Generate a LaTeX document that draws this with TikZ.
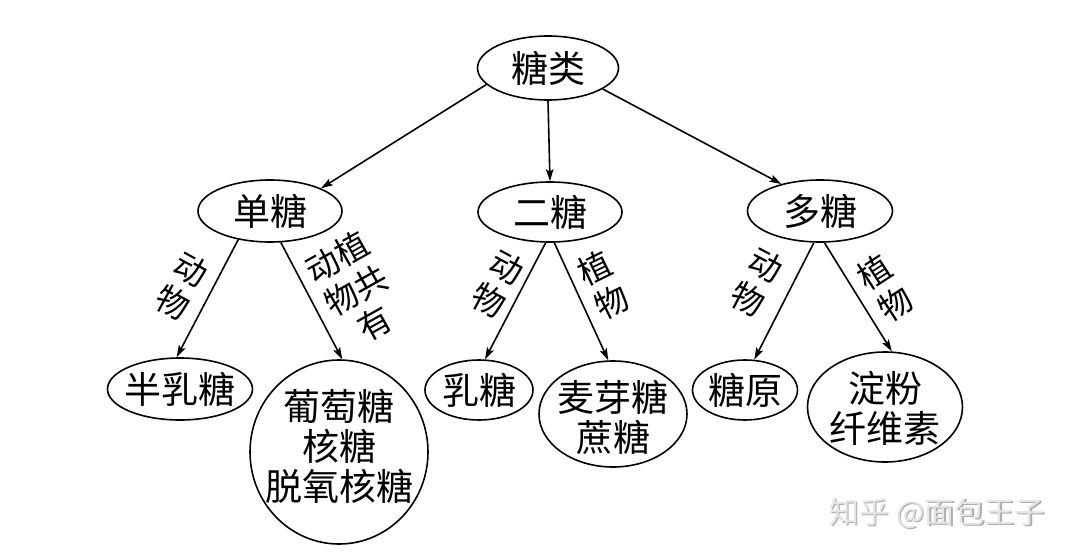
\documentclass[tikz,border=0pt]{standalone}
\usepackage{fontspec}
\setmainfont{Noto Sans CJK SC}
\usetikzlibrary{shapes.geometric,arrows.meta}
\tikzset{
  ell/.style={draw, ellipse, line width=1.6pt, inner sep=0pt},
  txt/.style={align=center, font=\fontsize{37}{40}\selectfont},
  lbl/.style={align=center, font=\fontsize{33}{38}\selectfont, inner sep=0pt},
  arr/.style={-{Stealth[length=12pt,width=7.5pt,inset=2.5pt]}, line width=1.6pt},
  wm/.style={font=\fontsize{30}{32}\selectfont}
}
\begin{document}
\begin{tikzpicture}[x=1pt,y=-1pt]
\useasboundingbox (0,0) rectangle (1080,557);
% ellipses
\node[ell, minimum width=141, minimum height=64] (lei) at (548,68) {};
\node[ell, minimum width=144, minimum height=62] (dan) at (270,211) {};
\node[ell, minimum width=144, minimum height=60] (er) at (550,212) {};
\node[ell, minimum width=145, minimum height=62] (duo) at (820,211) {};
\node[ell, minimum width=145, minimum height=62] (ban) at (180,389) {};
\node[ell, minimum width=178, minimum height=184] (pt) at (339,452) {};
\node[ell, minimum width=108, minimum height=60] (ru) at (479,390) {};
\node[ell, minimum width=148, minimum height=106] (mai) at (613,414) {};
\node[ell, minimum width=105, minimum height=60] (tang) at (745,390) {};
\node[ell, minimum width=155, minimum height=110] (dian) at (885,407) {};
% texts
\node[txt] (leit) at (lei) {糖类};
\node[txt] (dant) at (dan) {单糖};
\node[txt] (ert) at (er) {二糖};
\node[txt] (duot) at (duo) {多糖};
\node[txt] (bant) at (ban) {半乳糖};
\node[txt] (ptt) at (339,446) {葡萄糖\\核糖\\脱氧核糖};
\node[txt] (rut) at (ru) {乳糖};
\node[txt] (mait) at (613,417) {麦芽糖\\蔗糖};
\node[txt] (tangt) at (tang) {糖原};
\node[txt] (diant) at (885,408) {淀粉\\纤维素};
% arrows
\draw[arr] (lei.195) -- (dan.24);
\draw[arr] (lei.-90) -- (er.90);
\draw[arr] (lei.-21) -- (duo.145);
\draw[arr] (dan.-138) -- (ban.96);
\draw[arr] (dan.-71) -- (pt.88);
\draw[arr] (er.-98) -- (ru.79);
\draw[arr] (er.-82) -- (mai.95);
\draw[arr] (duo.-101) -- (tang.73);
\draw[arr] (duo.-82) -- (dian.83);
% labels
\node[lbl, rotate=-28.6] (l1) at (182,286) {动\\物};
\node[lbl, rotate=29.3] (l2) at (356,290) {动植\\物共\\有};
\node[lbl, rotate=-28] (l3) at (498,284) {动\\物};
\node[lbl, rotate=26] (l4) at (603,285) {植\\物};
\node[lbl, rotate=-27.6] (l5) at (757,282) {动\\物};
\node[lbl, rotate=33] (l6) at (885,288) {植\\物};
% watermark
\node[wm, text=gray!65] (wms) at (938.5,514.5) {知乎 @面包王子};
\node[wm, text=gray!20] (wmt) at (937,513) {知乎 @面包王子};
\end{tikzpicture}
\end{document}
